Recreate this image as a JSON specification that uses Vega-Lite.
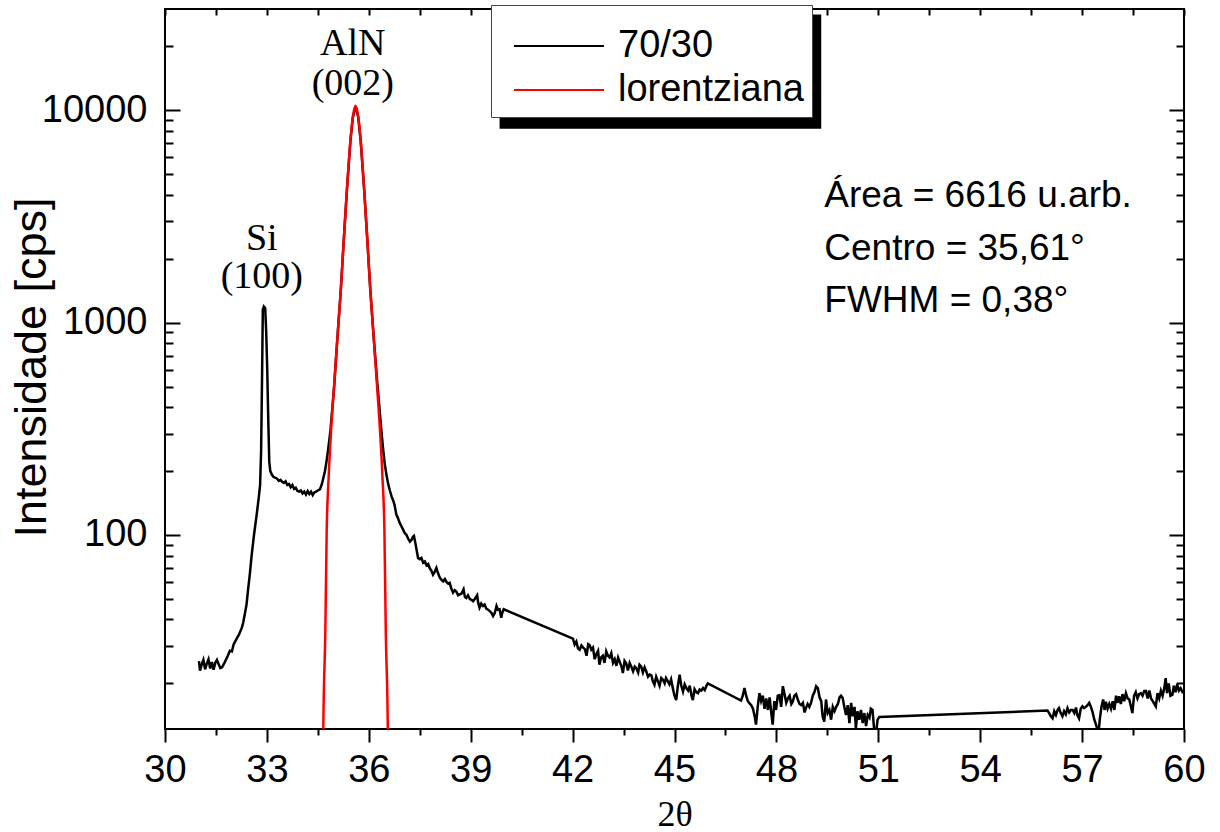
{
  "$schema": "https://vega.github.io/schema/vega-lite/v6.json",
  "width": 1019,
  "height": 720,
  "autosize": {"type": "none"},
  "padding": {"left": 165, "top": 9, "right": 36, "bottom": 103},
  "background": "white",
  "config": {
    "view": {"stroke": "black", "strokeWidth": 2},
    "axis": {"domain": false, "grid": false, "tickColor": "black", "tickWidth": 2, "labelColor": "black", "titleColor": "black", "labelFont": "Liberation Sans", "titleFont": "Liberation Sans", "titleFontWeight": "normal", "labelFontSize": 38, "labelFlush": false, "labelOverlap": false, "labelBound": false}
  },
  "resolve": {"axis": {"x": "independent", "y": "independent"}},
  "layer": [
    {
      "data": {"values": [{"x": 39.85, "x2": 49.32, "y": 8186, "y2": 28290}]},
      "mark": {"type": "rect", "color": "black"},
      "encoding": {
        "x": {"field": "x", "type": "quantitative", "axis": null, "scale": {"domain": [30, 60], "nice": false, "zero": false}},
        "x2": {"field": "x2"},
        "y": {"field": "y", "type": "quantitative", "axis": null, "scale": {"type": "log", "domain": [12.2, 30000], "nice": false}},
        "y2": {"field": "y2"}
      }
    },
    {
      "data": {"values": [
        {"x":31.00,"y":25.5},{"x":31.03,"y":23.0},{"x":31.08,"y":24.5},{"x":31.13,"y":25.8},{"x":31.18,"y":23.3},{"x":31.23,"y":24.8},{"x":31.28,"y":26.0},{"x":31.33,"y":23.5},{"x":31.38,"y":25.2},{"x":31.43,"y":23.2},{"x":31.48,"y":25.0},{"x":31.53,"y":25.8},{"x":31.58,"y":24.6},{"x":31.63,"y":23.6},{"x":31.68,"y":23.8},{"x":31.75,"y":25.0},{"x":31.85,"y":27.0},{"x":31.91,"y":28.5},{"x":31.97,"y":28.3},{"x":32.02,"y":30.5},{"x":32.11,"y":32.5},{"x":32.18,"y":34.0},{"x":32.26,"y":36.5},{"x":32.30,"y":38.5},{"x":32.35,"y":42.5},{"x":32.40,"y":47},{"x":32.45,"y":56},{"x":32.50,"y":66},{"x":32.55,"y":80},{"x":32.62,"y":100},{"x":32.70,"y":125},{"x":32.76,"y":150},{"x":32.80,"y":172},{"x":32.83,"y":250},{"x":32.86,"y":600},{"x":32.88,"y":1150},{"x":32.91,"y":1190},{"x":32.95,"y":1170},{"x":32.98,"y":900},{"x":33.01,"y":600},{"x":33.04,"y":350},{"x":33.07,"y":220},{"x":33.10,"y":200},{"x":33.15,"y":192},{"x":33.19,"y":188},{"x":33.25,"y":186},{"x":33.30,"y":184},{"x":33.35,"y":180},{"x":33.40,"y":182},{"x":33.45,"y":178},{"x":33.50,"y":176},{"x":33.55,"y":179},{"x":33.60,"y":172},{"x":33.65,"y":174},{"x":33.70,"y":168},{"x":33.75,"y":172},{"x":33.80,"y":165},{"x":33.85,"y":167},{"x":33.90,"y":161},{"x":33.95,"y":160},{"x":34.00,"y":162},{"x":34.05,"y":157},{"x":34.10,"y":160},{"x":34.15,"y":155},{"x":34.20,"y":161},{"x":34.25,"y":156},{"x":34.30,"y":160},{"x":34.35,"y":154},{"x":34.40,"y":159},{"x":34.45,"y":160},{"x":34.50,"y":162},{"x":34.56,"y":164},{"x":34.61,"y":172},{"x":34.66,"y":185},{"x":34.71,"y":200},{"x":34.76,"y":225},{"x":34.80,"y":250},{"x":34.87,"y":310},{"x":34.98,"y":500},{"x":35.07,"y":820},{"x":35.175,"y":1420},{"x":35.26,"y":2400},{"x":35.355,"y":4200},{"x":35.46,"y":7200},{"x":35.53,"y":9250},{"x":35.61,"y":10450},{"x":35.69,"y":9250},{"x":35.76,"y":7200},{"x":35.865,"y":4200},{"x":35.96,"y":2400},{"x":36.045,"y":1420},{"x":36.15,"y":830},{"x":36.25,"y":520},{"x":36.37,"y":310},{"x":36.42,"y":255},{"x":36.47,"y":216},{"x":36.52,"y":192},{"x":36.57,"y":174},{"x":36.62,"y":162},{"x":36.67,"y":152},{"x":36.72,"y":145},{"x":36.76,"y":138},{"x":36.81,"y":125},{"x":36.86,"y":120},{"x":36.91,"y":114},{"x":36.96,"y":110},{"x":37.01,"y":106},{"x":37.06,"y":102},{"x":37.11,"y":100},{"x":37.16,"y":96},{"x":37.21,"y":93},{"x":37.26,"y":95},{"x":37.30,"y":98},{"x":37.33,"y":99},{"x":37.38,"y":90},{"x":37.45,"y":78},{"x":37.50,"y":77},{"x":37.55,"y":78},{"x":37.60,"y":74},{"x":37.65,"y":75},{"x":37.70,"y":72},{"x":37.75,"y":73},{"x":37.79,"y":70},{"x":37.84,"y":68},{"x":37.89,"y":65},{"x":37.94,"y":67},{"x":37.99,"y":70},{"x":38.04,"y":66},{"x":38.09,"y":63},{"x":38.14,"y":61.5},{"x":38.19,"y":60.5},{"x":38.24,"y":62},{"x":38.29,"y":60},{"x":38.34,"y":59},{"x":38.38,"y":59.5},{"x":38.43,"y":56},{"x":38.48,"y":53.5},{"x":38.53,"y":55},{"x":38.58,"y":54},{"x":38.63,"y":52},{"x":38.68,"y":52.5},{"x":38.73,"y":53},{"x":38.79,"y":55.5},{"x":38.83,"y":51},{"x":38.87,"y":50.5},{"x":38.92,"y":52},{"x":38.97,"y":50},{"x":39.02,"y":49.5},{"x":39.07,"y":48.8},{"x":39.12,"y":50},{"x":39.19,"y":52},{"x":39.22,"y":48},{"x":39.26,"y":45.5},{"x":39.31,"y":47.5},{"x":39.36,"y":46.3},{"x":39.41,"y":47},{"x":39.46,"y":45},{"x":39.51,"y":44.5},{"x":39.56,"y":43.8},{"x":39.61,"y":43},{"x":39.66,"y":41.5},{"x":39.71,"y":43},{"x":39.76,"y":46.3},{"x":39.80,"y":44.5},{"x":39.85,"y":44.7},{"x":39.90,"y":40.8},{"x":39.93,"y":43},{"x":39.97,"y":44.7},
        {"x":42.01,"y":32.5},{"x":42.06,"y":30.5},{"x":42.11,"y":31.5},{"x":42.16,"y":29.2},{"x":42.21,"y":28.8},{"x":42.26,"y":30.2},{"x":42.31,"y":29.5},{"x":42.36,"y":29.0},{"x":42.41,"y":27.0},{"x":42.46,"y":30.6},{"x":42.50,"y":30.3},{"x":42.55,"y":28.8},{"x":42.60,"y":29.5},{"x":42.65,"y":26.0},{"x":42.70,"y":27.5},{"x":42.75,"y":28.5},{"x":42.79,"y":24.5},{"x":42.84,"y":26.5},{"x":42.89,"y":27.0},{"x":42.94,"y":25.0},{"x":42.99,"y":28.3},{"x":43.04,"y":27.0},{"x":43.09,"y":26.5},{"x":43.14,"y":27.8},{"x":43.19,"y":25.0},{"x":43.24,"y":26.0},{"x":43.29,"y":24.2},{"x":43.34,"y":26.5},{"x":43.39,"y":25.2},{"x":43.44,"y":24.0},{"x":43.48,"y":22.4},{"x":43.53,"y":25.5},{"x":43.58,"y":24.8},{"x":43.63,"y":23.0},{"x":43.68,"y":25.0},{"x":43.73,"y":24.0},{"x":43.78,"y":22.8},{"x":43.83,"y":24.0},{"x":43.88,"y":23.5},{"x":43.93,"y":22.5},{"x":43.97,"y":24.5},{"x":44.02,"y":24.0},{"x":44.07,"y":22.5},{"x":44.12,"y":23.8},{"x":44.17,"y":22.8},{"x":44.22,"y":21.5},{"x":44.27,"y":22.0},{"x":44.32,"y":21.8},{"x":44.36,"y":20.5},{"x":44.41,"y":19.7},{"x":44.46,"y":21.5},{"x":44.51,"y":20.5},{"x":44.56,"y":19.5},{"x":44.61,"y":21.2},{"x":44.66,"y":20.8},{"x":44.71,"y":20.0},{"x":44.75,"y":21.2},{"x":44.80,"y":20.5},{"x":44.85,"y":19.8},{"x":44.90,"y":20.9},{"x":44.95,"y":19.0},{"x":45.00,"y":17.5},{"x":45.05,"y":16.7},{"x":45.10,"y":19.5},{"x":45.15,"y":22.0},{"x":45.20,"y":19.5},{"x":45.25,"y":18.3},{"x":45.30,"y":19.8},{"x":45.35,"y":19.0},{"x":45.40,"y":18.5},{"x":45.45,"y":19.5},{"x":45.50,"y":17.5},{"x":45.54,"y":16.7},{"x":45.59,"y":18.8},{"x":45.64,"y":18.2},{"x":45.69,"y":18.0},{"x":45.74,"y":18.7},{"x":45.79,"y":18.5},{"x":45.84,"y":19.0},{"x":45.89,"y":18.6},{"x":45.94,"y":19.5},{"x":45.98,"y":20.0},
        {"x":46.96,"y":16.6},{"x":47.01,"y":17.5},{"x":47.06,"y":19.0},{"x":47.11,"y":17.5},{"x":47.16,"y":16.5},{"x":47.21,"y":16.1},{"x":47.26,"y":15.8},{"x":47.31,"y":15.2},{"x":47.36,"y":14.0},{"x":47.40,"y":12.8},{"x":47.45,"y":15.5},{"x":47.50,"y":18.0},{"x":47.55,"y":16.5},{"x":47.60,"y":17.5},{"x":47.65,"y":15.2},{"x":47.70,"y":17.0},{"x":47.75,"y":15.0},{"x":47.80,"y":17.2},{"x":47.85,"y":14.5},{"x":47.89,"y":12.8},{"x":47.94,"y":16.5},{"x":47.99,"y":15.0},{"x":48.04,"y":17.5},{"x":48.09,"y":17.6},{"x":48.14,"y":15.5},{"x":48.19,"y":19.4},{"x":48.24,"y":17.8},{"x":48.29,"y":16.2},{"x":48.34,"y":17.0},{"x":48.39,"y":17.5},{"x":48.44,"y":16.0},{"x":48.48,"y":16.4},{"x":48.53,"y":17.5},{"x":48.58,"y":17.8},{"x":48.63,"y":16.8},{"x":48.68,"y":16.0},{"x":48.73,"y":15.8},{"x":48.78,"y":16.2},{"x":48.83,"y":14.6},{"x":48.87,"y":15.3},{"x":48.92,"y":16.0},{"x":48.97,"y":15.5},{"x":49.02,"y":16.2},{"x":49.07,"y":17.5},{"x":49.12,"y":18.2},{"x":49.17,"y":19.4},{"x":49.22,"y":19.0},{"x":49.27,"y":17.2},{"x":49.32,"y":16.5},{"x":49.36,"y":14.0},{"x":49.41,"y":13.2},{"x":49.46,"y":16.8},{"x":49.51,"y":14.5},{"x":49.56,"y":15.0},{"x":49.61,"y":13.5},{"x":49.66,"y":15.5},{"x":49.71,"y":14.8},{"x":49.76,"y":15.5},{"x":49.81,"y":16.0},{"x":49.86,"y":17.2},{"x":49.90,"y":17.5},{"x":49.95,"y":17.1},{"x":50.00,"y":15.5},{"x":50.05,"y":14.2},{"x":50.10,"y":15.8},{"x":50.15,"y":13.0},{"x":50.20,"y":16.2},{"x":50.25,"y":14.0},{"x":50.30,"y":15.5},{"x":50.34,"y":12.3},{"x":50.39,"y":14.8},{"x":50.44,"y":13.5},{"x":50.49,"y":15.0},{"x":50.54,"y":13.0},{"x":50.59,"y":14.5},{"x":50.64,"y":12.6},{"x":50.69,"y":14.2},{"x":50.74,"y":13.8},{"x":50.78,"y":15.2},{"x":50.83,"y":15.0},{"x":50.88,"y":12.0},{"x":50.93,"y":11.5},{"x":50.98,"y":13.5},{"x":51.03,"y":13.9},
        {"x":55.98,"y":14.9},{"x":56.03,"y":14.5},{"x":56.08,"y":14.0},{"x":56.13,"y":13.7},{"x":56.18,"y":14.8},{"x":56.23,"y":14.2},{"x":56.28,"y":15.0},{"x":56.32,"y":15.3},{"x":56.37,"y":14.5},{"x":56.42,"y":14.0},{"x":56.47,"y":14.8},{"x":56.52,"y":14.3},{"x":56.57,"y":15.3},{"x":56.62,"y":14.6},{"x":56.67,"y":15.0},{"x":56.72,"y":15.0},{"x":56.77,"y":14.5},{"x":56.82,"y":15.4},{"x":56.86,"y":14.2},{"x":56.91,"y":13.7},{"x":56.96,"y":15.2},{"x":57.01,"y":15.6},{"x":57.06,"y":15.3},{"x":57.11,"y":15.5},{"x":57.16,"y":15.8},{"x":57.21,"y":16.2},{"x":57.26,"y":15.5},{"x":57.31,"y":14.6},{"x":57.36,"y":13.5},{"x":57.41,"y":12.8},{"x":57.46,"y":12.0},{"x":57.48,"y":11.5},{"x":57.52,"y":13.5},{"x":57.57,"y":15.5},{"x":57.62,"y":16.8},{"x":57.66,"y":15.0},{"x":57.70,"y":16.4},{"x":57.75,"y":15.2},{"x":57.80,"y":16.0},{"x":57.85,"y":15.2},{"x":57.90,"y":16.5},{"x":57.95,"y":15.0},{"x":58.00,"y":17.5},{"x":58.05,"y":16.2},{"x":58.09,"y":17.4},{"x":58.14,"y":16.0},{"x":58.19,"y":17.8},{"x":58.24,"y":16.5},{"x":58.29,"y":18.0},{"x":58.34,"y":17.0},{"x":58.39,"y":16.8},{"x":58.44,"y":15.5},{"x":58.48,"y":14.5},{"x":58.53,"y":17.5},{"x":58.58,"y":18.2},{"x":58.63,"y":17.0},{"x":58.68,"y":17.8},{"x":58.73,"y":18.0},{"x":58.78,"y":17.5},{"x":58.83,"y":18.4},{"x":58.88,"y":18.4},{"x":58.93,"y":17.0},{"x":58.98,"y":18.5},{"x":59.03,"y":17.0},{"x":59.08,"y":16.5},{"x":59.13,"y":16.0},{"x":59.17,"y":15.6},{"x":59.22,"y":18.0},{"x":59.27,"y":17.0},{"x":59.32,"y":18.5},{"x":59.37,"y":17.5},{"x":59.42,"y":19.0},{"x":59.46,"y":21.2},{"x":59.50,"y":18.0},{"x":59.55,"y":20.0},{"x":59.60,"y":17.5},{"x":59.66,"y":17.7},{"x":59.70,"y":19.5},{"x":59.75,"y":18.2},{"x":59.80,"y":19.8},{"x":59.85,"y":18.5},{"x":59.90,"y":19.0},{"x":59.97,"y":18.0}
      ]},
      "mark": {"type": "line", "clip": true, "strokeWidth": 2.5},
      "encoding": {
        "x": {"field": "x", "type": "quantitative", "title": "2θ",
          "axis": {"orient": "bottom", "values": [30,31.5,33,34.5,36,37.5,39,40.5,42,43.5,45,46.5,48,49.5,51,52.5,54,55.5,57,58.5,60], "format": "d",
            "labelExpr": "datum.value % 3 == 0 ? datum.label : ''",
            "tickSize": {"condition": {"test": "datum.value % 3 == 0", "value": 13}, "value": 6},
            "labelPadding": 9, "titleFont": "Liberation Serif", "titleFontSize": 36, "titlePadding": 8}},
        "y": {"field": "y", "type": "quantitative", "title": "Intensidade [cps]",
          "axis": {"orient": "left", "values": [20,30,40,50,60,70,80,90,100,200,300,400,500,600,700,800,900,1000,2000,3000,4000,5000,6000,7000,8000,9000,10000,20000], "format": "d",
            "labelExpr": "datum.value == 100 || datum.value == 1000 || datum.value == 10000 ? datum.label : ''",
            "tickSize": {"condition": {"test": "datum.value == 100 || datum.value == 1000 || datum.value == 10000", "value": -15}, "value": -8},
            "labelPadding": 33, "titleFontSize": 45, "titleX": -134, "titleY": 358, "titleBaseline": "middle", "titleAngle": -90}},
        "color": {"datum": "70/30", "type": "nominal",
          "scale": {"domain": ["70/30", "lorentziana"], "range": ["black", "#ff0000"]},
          "legend": {"orient": "none", "legendX": 326, "legendY": -4, "title": " ", "titleFontSize": 8, "titlePadding": 6,
            "symbolType": "M-0.27,0H5.73", "symbolSize": 900, "symbolStrokeWidth": 2, "labelOffset": 81, "labelLimit": 600,
            "labelFontSize": 38, "labelFont": "Liberation Sans", "labelColor": "black", "fillColor": "white", "strokeColor": "#444", "padding": 8, "rowPadding": 6}}
      }
    },
    {
      "data": {"values": [
        {"x":34.63,"y":2},{"x":34.66,"y":12},{"x":34.72,"y":35},{"x":34.76,"y":104},{"x":34.82,"y":190},{"x":34.89,"y":310},{"x":34.98,"y":510},{"x":35.07,"y":824},{"x":35.175,"y":1422},{"x":35.26,"y":2400},{"x":35.355,"y":4217},{"x":35.46,"y":7260},{"x":35.53,"y":9300},{"x":35.61,"y":10500},{"x":35.69,"y":9300},{"x":35.76,"y":7260},{"x":35.865,"y":4217},{"x":35.96,"y":2400},{"x":36.045,"y":1422},{"x":36.15,"y":824},{"x":36.24,"y":510},{"x":36.33,"y":310},{"x":36.40,"y":190},{"x":36.46,"y":104},{"x":36.50,"y":35},{"x":36.56,"y":12},{"x":36.59,"y":2}
      ]},
      "mark": {"type": "line", "clip": true, "strokeWidth": 2.5, "interpolate": "monotone"},
      "encoding": {
        "x": {"field": "x", "type": "quantitative",
          "axis": {"orient": "top", "values": [30,31.5,33,34.5,36,37.5,39,40.5,42,43.5,45,46.5,48,49.5,51,52.5,54,55.5,57,58.5,60], "labels": false, "tickSize": -6, "title": null}},
        "y": {"field": "y", "type": "quantitative",
          "axis": {"orient": "right", "values": [20,30,40,50,60,70,80,90,100,200,300,400,500,600,700,800,900,1000,2000,3000,4000,5000,6000,7000,8000,9000,10000,20000], "labels": false, "title": null,
            "tickSize": {"condition": {"test": "datum.value == 100 || datum.value == 1000 || datum.value == 10000", "value": -15}, "value": -8}}},
        "color": {"datum": "lorentziana", "type": "nominal"}
      }
    },
    {
      "data": {"values": [
        {"x": 35.53, "y": 18310, "t": "AlN"},
        {"x": 35.53, "y": 11850, "t": "(002)"},
        {"x": 32.85, "y": 2195, "t": "Si"},
        {"x": 32.85, "y": 1452, "t": "(100)"}
      ]},
      "mark": {"type": "text", "font": "Liberation Serif", "fontSize": 38, "align": "center", "baseline": "alphabetic", "color": "black"},
      "encoding": {
        "x": {"field": "x", "type": "quantitative", "axis": null},
        "y": {"field": "y", "type": "quantitative", "axis": null},
        "text": {"field": "t"}
      }
    },
    {
      "data": {"values": [
        {"x": 49.41, "y": 3516, "t": "Área = 6616 u.arb."},
        {"x": 49.41, "y": 1968, "t": "Centro = 35,61°"},
        {"x": 49.41, "y": 1122, "t": "FWHM = 0,38°"}
      ]},
      "mark": {"type": "text", "font": "Liberation Sans", "fontSize": 37, "align": "left", "baseline": "alphabetic", "color": "black"},
      "encoding": {
        "x": {"field": "x", "type": "quantitative", "axis": null},
        "y": {"field": "y", "type": "quantitative", "axis": null},
        "text": {"field": "t"}
      }
    }
  ]
}
